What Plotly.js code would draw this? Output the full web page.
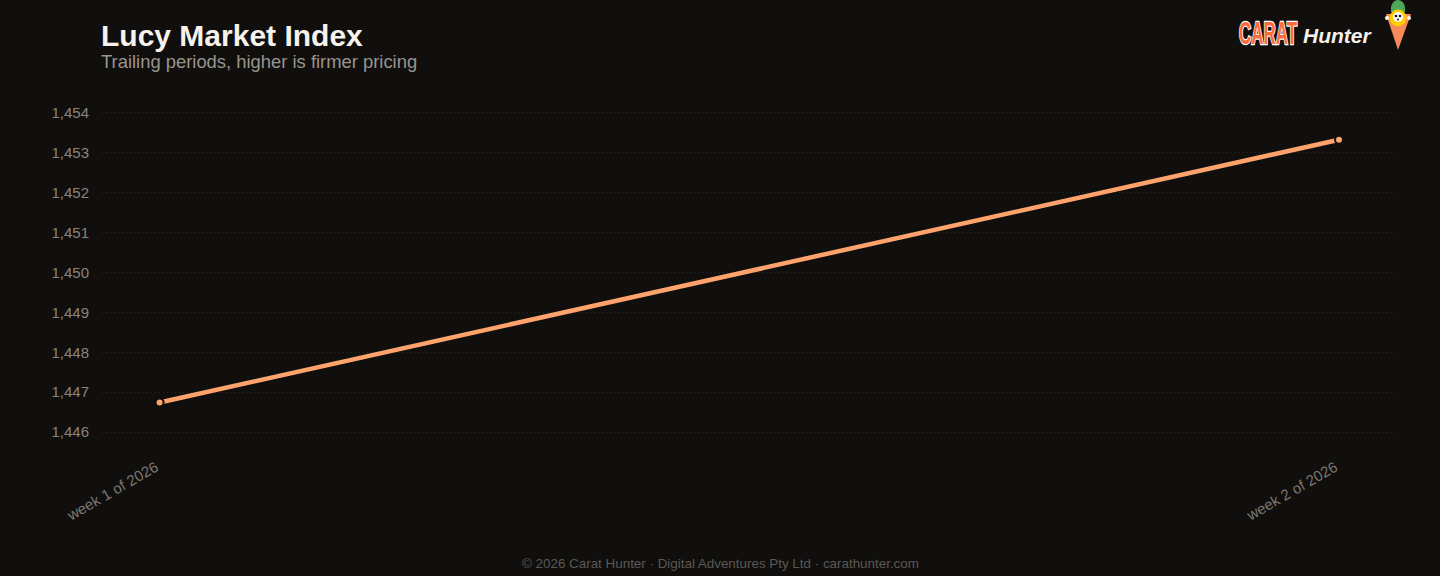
<!DOCTYPE html>
<html>
<head>
<meta charset="utf-8">
<script src="https://cdn.plot.ly/plotly-3.0.1.min.js"></script>
<style>
  html, body { margin: 0; padding: 0; background: #100f0e; }
  #chart { width: 1440px; height: 576px; }
</style>
</head>
<body>
<div id="chart"></div>
<script>
// data
const periods = ['week 1 of 2026', 'week 2 of 2026'];
const indexValues = [1446.74, 1453.33];
const yTicks = [1446, 1447, 1448, 1449, 1450, 1451, 1452, 1453, 1454];

const bg = '#100f0e';
const orange = '#ffa36c';

// plot box in pixels, used to place the header / footer / logo
const W = 1440, H = 576;
const M = { l: 103, r: 42, t: 105, b: 136 };
const plotW = W - M.l - M.r, plotH = H - M.t - M.b;
const px = x => (x - M.l) / plotW;
const py = y => (H - M.b - y) / plotH;

const logoSvg =
  '<svg xmlns="http://www.w3.org/2000/svg" width="190" height="55" viewBox="0 0 190 55">' +
  '<text x="4" y="44" textLength="58" lengthAdjust="spacingAndGlyphs" font-family="Liberation Sans Narrow, Arial Narrow, sans-serif" font-weight="bold" font-size="31" fill="#ff6a3d" stroke="#ffffff" stroke-width="2.5" paint-order="stroke">CARAT</text>' +
  '<text x="68" y="43" font-family="Liberation Sans, Arial, sans-serif" font-style="italic" font-weight="bold" font-size="21" fill="#f5f0ea">Hunter</text>' +
  '<path d="M156,12 C155,4 159,0 163,0 C167,0 171,4 170,12 Z" fill="#4fa85a"/>' +
  '<polygon points="151,14 176,14 163,50" fill="#f68a5b"/>' +
  '<circle cx="152" cy="18" r="2" fill="#ffffff"/>' +
  '<circle cx="174" cy="18" r="2" fill="#ffffff"/>' +
  '<circle cx="163" cy="18" r="8.5" fill="#ffcc00"/>' +
  '<circle cx="163" cy="17" r="5" fill="#ffffff"/>' +
  '<circle cx="161" cy="16" r="1.3" fill="#111"/>' +
  '<circle cx="165" cy="16" r="1.3" fill="#111"/>' +
  '<circle cx="163" cy="19.5" r="1" fill="#111"/>' +
  '</svg>';

const data = [{
  x: periods,
  y: indexValues,
  type: 'scatter',
  mode: 'lines+markers',
  line: { color: orange, width: 4.5 },
  marker: { color: orange, size: 8, line: { color: bg, width: 2 } },
  hoverinfo: 'x+y'
}];

const layout = {
  width: W,
  height: H,
  paper_bgcolor: bg,
  plot_bgcolor: bg,
  margin: M,
  showlegend: false,
  font: { family: 'Liberation Sans, Arial, sans-serif', color: '#8a847d' },
  xaxis: {
    type: 'category',
    range: [-0.048, 1.05],
    showgrid: false,
    zeroline: false,
    showline: false,
    ticks: 'outside',
    ticklen: 12,
    tickcolor: bg,
    tickangle: -30,
    ticklabelshift: -4,
    tickfont: { size: 15, color: '#7d7770' }
  },
  yaxis: {
    range: [1445.8, 1454.2],
    tickvals: yTicks,
    tickformat: ',d',
    showgrid: true,
    gridcolor: '#2a2825',
    griddash: '1px,3px',
    gridwidth: 1,
    zeroline: false,
    showline: false,
    ticks: 'outside',
    ticklen: 10,
    tickcolor: bg,
    tickfont: { size: 15, color: '#8a847d' }
  },
  annotations: [
    {
      text: '<b>Lucy Market Index</b>',
      xref: 'paper', yref: 'paper', x: px(99), y: py(35),
      xanchor: 'left', yanchor: 'middle', showarrow: false,
      font: { size: 30, color: '#f7f2ec' }
    },
    {
      text: 'Trailing periods, higher is firmer pricing',
      xref: 'paper', yref: 'paper', x: px(99), y: py(62),
      xanchor: 'left', yanchor: 'middle', showarrow: false,
      font: { size: 18.4, color: '#9a948c' }
    },
    {
      text: '© 2026 Carat Hunter · Digital Adventures Pty Ltd · carathunter.com',
      xref: 'paper', yref: 'paper', x: px(720), y: py(563),
      xanchor: 'center', yanchor: 'middle', showarrow: false,
      font: { size: 13.4, color: '#5c5852' }
    }
  ],
  images: [{
    source: 'data:image/svg+xml;charset=utf-8,' + encodeURIComponent(logoSvg),
    xref: 'paper', yref: 'paper',
    x: px(1235), y: py(0),
    sizex: 190 / plotW, sizey: 55 / plotH,
    xanchor: 'left', yanchor: 'top',
    sizing: 'stretch', layer: 'above'
  }]
};

Plotly.newPlot('chart', data, layout, { displayModeBar: false, responsive: false });
</script>
</body>
</html>
